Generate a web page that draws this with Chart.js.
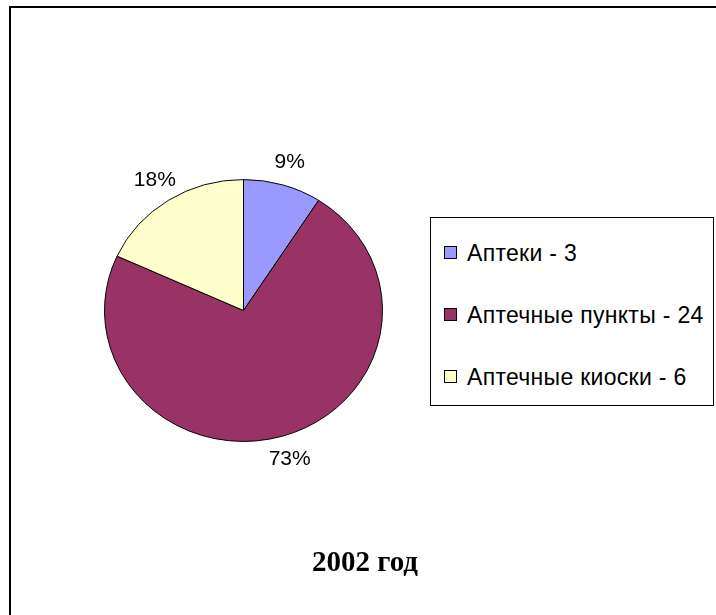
<!DOCTYPE html>
<html>
<head>
<meta charset="utf-8">
<script src="https://cdn.jsdelivr.net/npm/chart.js@4/dist/chart.umd.min.js"></script>
<style>
    html, body { margin: 0; padding: 0; background: #fff; overflow: hidden; }
    #wrap { position: relative; width: 716px; height: 615px; }
    #frame {
        position: absolute; left: 9px; top: 6px; width: 800px; height: 700px;
        border-left: 2px solid #000; border-top: 2px solid #000;
    }
    #pie { position: absolute; left: 0; top: 0; }
    #legend {
        position: absolute; left: 430px; top: 217px; width: 282px; height: 187px;
        border: 1px solid #000; background: #fff;
        font-family: "Liberation Sans", Arial, sans-serif; font-size: 23px; letter-spacing: 0.3px;
    }
    .item { position: absolute; left: 13px; height: 26px; line-height: 26px; white-space: nowrap; }
    .mark { display: inline-block; width: 11px; height: 11px; border: 1px solid #000; margin-right: 10px; vertical-align: 2px; }
    #title {
        position: absolute; left: 0; width: 730px; top: 545px; text-align: center;
        font-family: "Liberation Serif", "Times New Roman", serif; font-weight: bold; font-size: 29px;
    }
</style>
</head>
<body>
<div id="wrap">
    <div id="frame"></div>
    <canvas id="pie" width="716" height="615"></canvas>
    <div id="legend"></div>
    <div id="title"></div>
</div>
<script>
const labels = ["Аптеки", "Аптечные пункты", "Аптечные киоски"];
const counts = [3, 24, 6];
const colors = ['#9999FF', '#993366', '#FFFFCC'];
const titleText = "2002 год";

const squash = 0.942; // old Excel pies are a bit flatter than wide

const ellipse = {
    id: 'ellipse',
    beforeDatasetsDraw(chart) {
        const arc = chart.getDatasetMeta(0).data[0];
        const ctx = chart.ctx;
        ctx.save();
        ctx.translate(0, arc.y);
        ctx.scale(1, squash);
        ctx.translate(0, -arc.y);
    },
    afterDatasetsDraw(chart) {
        chart.ctx.restore();
    }
};

const pctLabels = {
    id: 'pctLabels',
    afterDatasetsDraw(chart) {
        const ctx = chart.ctx;
        const total = counts.reduce((a, b) => a + b, 0);
        ctx.save();
        ctx.fillStyle = '#000';
        ctx.font = '21px "Liberation Sans", Arial, sans-serif';
        ctx.textAlign = 'center';
        ctx.textBaseline = 'middle';
        chart.getDatasetMeta(0).data.forEach((arc, i) => {
            const mid = (arc.startAngle + arc.endAngle) / 2;
            const r = arc.outerRadius * 1.18;
            const x = arc.x + Math.cos(mid) * r;
            const y = arc.y + Math.sin(mid) * r * squash;
            ctx.fillText(Math.round(counts[i] / total * 100) + '%', x, y);
        });
        ctx.restore();
    }
};

new Chart(document.getElementById('pie').getContext('2d'), {
    type: 'pie',
    data: {
        labels: labels,
        datasets: [{
            data: counts,
            backgroundColor: colors,
            borderColor: '#000',
            borderWidth: 1
        }]
    },
    options: {
        responsive: false,
        animation: false,
        layout: { padding: { left: 104, right: 333, top: 171, bottom: 165 } },
        plugins: {
            legend: { display: false },
            tooltip: { enabled: false }
        }
    },
    plugins: [ellipse, pctLabels]
});

// legend box
const legend = document.getElementById('legend');
labels.forEach((name, i) => {
    const div = document.createElement('div');
    div.className = 'item';
    div.style.top = (22 + i * 62) + 'px';
    div.innerHTML = `<span class="mark" style="background:${colors[i]}"></span>${name} - ${counts[i]}`;
    legend.appendChild(div);
});
document.getElementById('title').innerText = titleText;
</script>
</body>
</html>
